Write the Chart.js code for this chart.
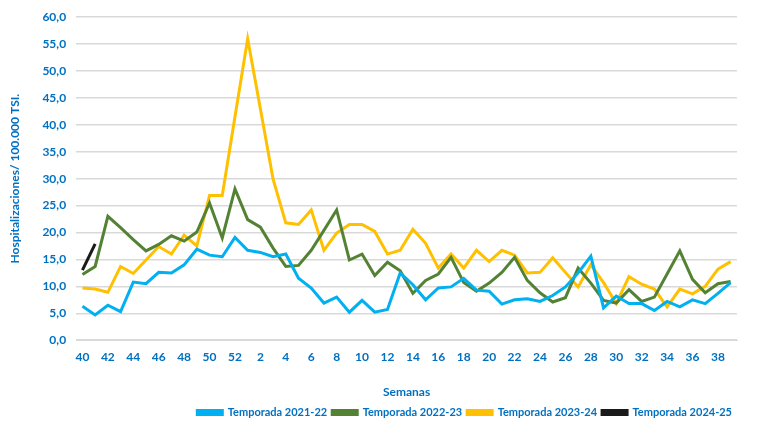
<!DOCTYPE html>
<html lang="es">
<head>
<meta charset="utf-8">
<title>Hospitalizaciones por semana</title>
<script src="https://cdn.jsdelivr.net/npm/chart.js@4/dist/chart.umd.min.js"></script>
<style>
    body { margin: 0; background: #fff; }
    #grafico { display: block; }
</style>
</head>
<body>
<canvas id="grafico" width="780" height="423"></canvas>
<script>
// Semanas epidemiológicas (40 a 52 y luego 1 a 39)
const semanas = [40, 41, 42, 43, 44, 45, 46, 47, 48, 49, 50, 51, 52,
    1, 2, 3, 4, 5, 6, 7, 8, 9, 10, 11, 12, 13, 14, 15, 16, 17, 18, 19, 20,
    21, 22, 23, 24, 25, 26, 27, 28, 29, 30, 31, 32, 33, 34, 35, 36, 37, 38, 39];

// Tasas por temporada
const temporada2122 = [6.3, 4.7, 6.5, 5.3, 10.8, 10.5, 12.6, 12.5, 14.0, 16.9, 15.8, 15.5, 19.1,
    16.7, 16.3, 15.5, 16.0, 11.5, 9.7, 6.9, 8.0, 5.2, 7.4, 5.2, 5.7, 12.5, 10.3, 7.5, 9.7, 9.9,
    11.5, 9.3, 9.1, 6.7, 7.5, 7.7, 7.2, 8.3, 9.9, 12.5, 15.6, 6.0, 8.2, 6.8, 6.8, 5.5, 7.2, 6.2,
    7.5, 6.8, 8.7, 10.7];
const temporada2223 = [12.2, 13.7, 23.0, 20.9, 18.7, 16.6, 17.8, 19.4, 18.4, 20.1, 25.5, 19.0, 28.1,
    22.4, 21.0, 17.1, 13.7, 13.9, 16.7, 20.4, 24.2, 14.9, 16.0, 12.0, 14.5, 12.9, 8.7, 11.1, 12.3, 15.4,
    10.7, 9.1, 10.6, 12.6, 15.4, 11.1, 8.8, 7.1, 7.9, 13.4, 10.6, 7.4, 6.9, 9.4, 7.2, 8.0, 12.3, 16.6,
    11.3, 8.8, 10.5, 10.9];
const temporada2324 = [9.7, 9.5, 8.9, 13.7, 12.4, 14.9, 17.4, 16.0, 19.5, 17.5, 26.9, 26.9, 41.5,
    56.0, 43.0, 29.9, 21.8, 21.5, 24.2, 16.7, 19.9, 21.5, 21.5, 20.2, 16.0, 16.7, 20.6, 18.0, 13.4, 16.0,
    13.4, 16.7, 14.6, 16.7, 15.8, 12.5, 12.6, 15.3, 12.6, 9.9, 14.0, 10.7, 6.8, 11.8, 10.4, 9.5, 6.2, 9.5,
    8.6, 10.0, 13.2, 14.6];
const temporada2425 = [13.0, 17.9];

const azulTexto = '#0070C0';
const fuente = 'Lato, "Liberation Sans", sans-serif';

function serie(nombre, datos, color) {
    return {
        label: nombre,
        data: datos,
        borderColor: color,
        backgroundColor: color,
        borderWidth: 3,
        pointRadius: 0,
        tension: 0,
        fill: false
    };
}

// La leyenda queda más pegada al borde inferior
const ajusteLeyenda = {
    id: 'ajusteLeyenda',
    beforeInit: function(chart) {
        const fitOriginal = chart.legend.fit;
        chart.legend.fit = function() {
            fitOriginal.call(this);
            this.height -= 5;
        };
    }
};

document.addEventListener('DOMContentLoaded', function() {
    const ctx = document.getElementById('grafico').getContext('2d');

    new Chart(ctx, {
        type: 'line',
        data: {
            labels: semanas,
            datasets: [
                serie('Temporada 2021-22', temporada2122, '#00B0F0'),
                serie('Temporada 2022-23', temporada2223, '#548235'),
                serie('Temporada 2023-24', temporada2324, '#FFC000'),
                serie('Temporada 2024-25', temporada2425, '#1A1A1A')
            ]
        },
        plugins: [ajusteLeyenda],
        options: {
            responsive: false,
            animation: false,
            layout: { padding: { top: 4, right: 43, left: 8, bottom: 0 } },
            plugins: {
                tooltip: { enabled: false },
                legend: {
                    position: 'bottom',
                    align: 'end',
                    labels: {
                        boxWidth: 25,
                        boxHeight: 4,
                        padding: 5,
                        color: azulTexto,
                        font: { family: fuente, size: 11, weight: 'bold' }
                    }
                }
            },
            scales: {
                x: {
                    offset: true,
                    grid: { display: false, drawTicks: false },
                    border: { color: '#D9D9D9', width: 1 },
                    ticks: {
                        autoSkip: false,
                        maxRotation: 0,
                        padding: 10,
                        color: azulTexto,
                        font: { family: fuente, size: 12, weight: 'bold' },
                        callback: function(valor, indice) {
                            return indice % 2 === 0 ? semanas[indice] : '';
                        }
                    },
                    title: {
                        display: true,
                        text: 'Semanas',
                        color: azulTexto,
                        padding: { top: 10, bottom: 3 },
                        font: { family: fuente, size: 12, weight: 'bold' }
                    }
                },
                y: {
                    min: 0,
                    max: 60,
                    grid: { color: '#D9D9D9', lineWidth: 1.5, drawTicks: false },
                    border: { display: false },
                    ticks: {
                        stepSize: 5,
                        padding: 10,
                        color: azulTexto,
                        font: { family: fuente, size: 12, weight: 'bold' },
                        callback: function(valor) {
                            return valor.toFixed(1).replace('.', ',');
                        }
                    },
                    title: {
                        display: true,
                        text: 'Hospitalizaciones/ 100.000 TSI.',
                        color: azulTexto,
                        padding: { top: 0, bottom: 10 },
                        font: { family: fuente, size: 12, weight: 'bold' }
                    }
                }
            }
        }
    });
});
</script>
</body>
</html>
